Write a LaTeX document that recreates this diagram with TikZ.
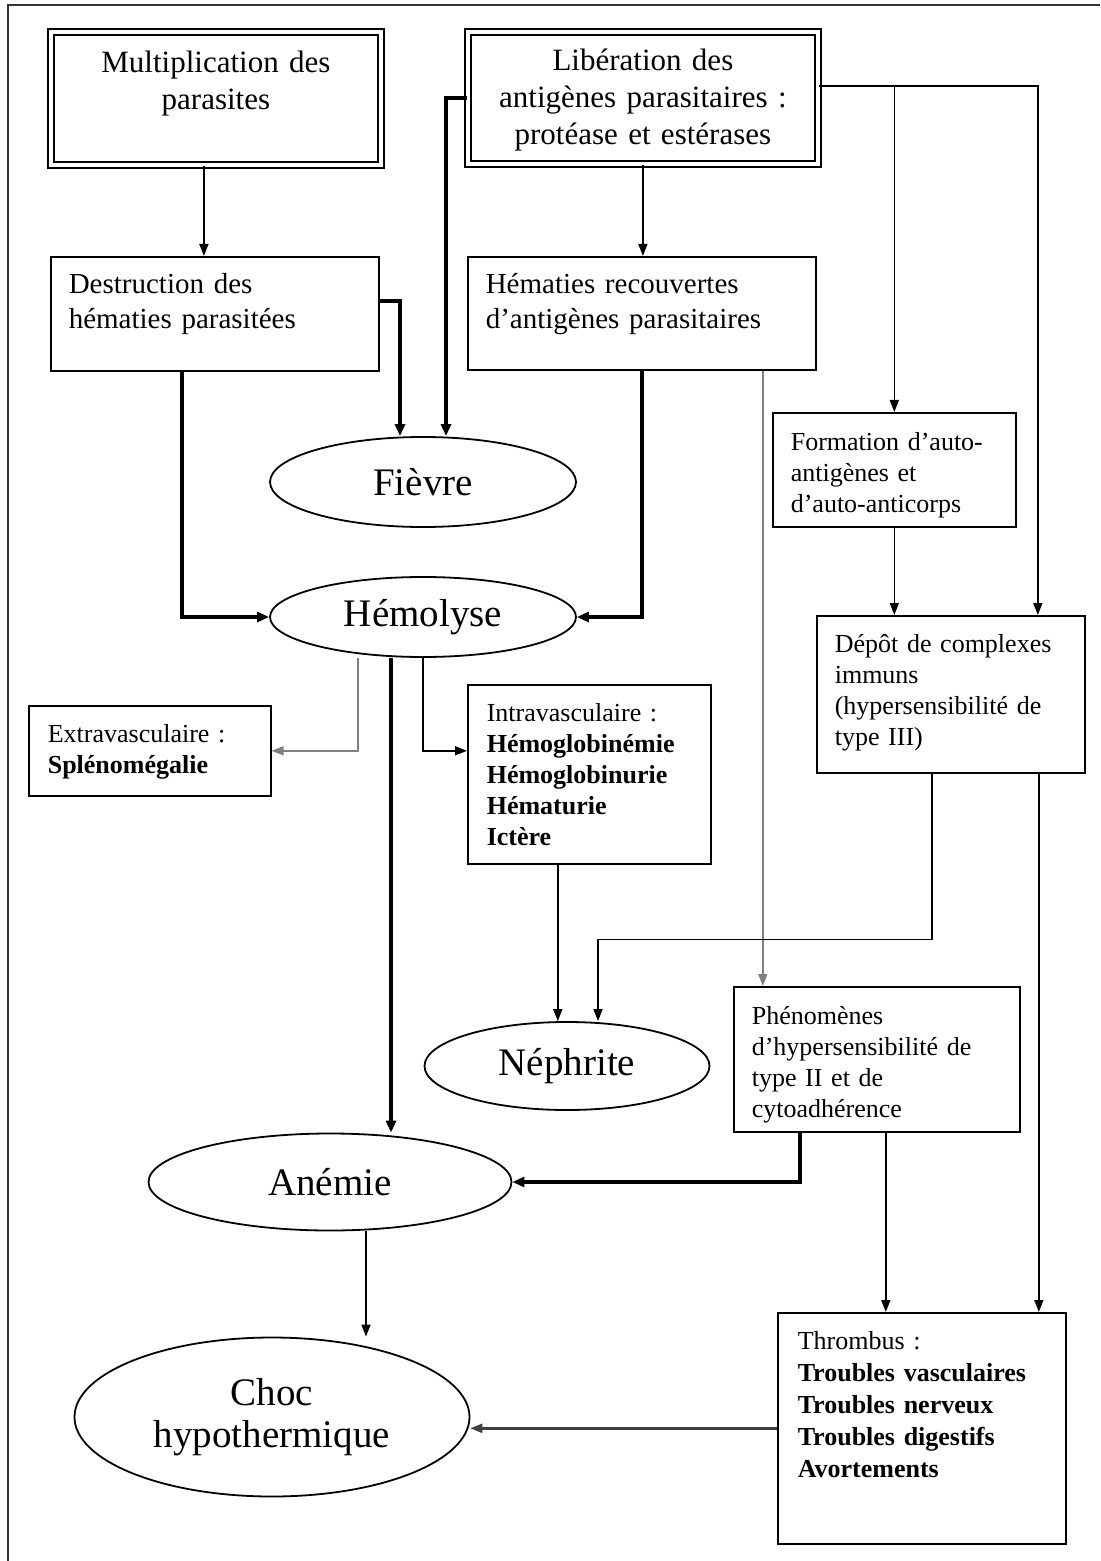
\documentclass[tikz,border=0pt]{standalone}
\usepackage{fontspec}
\setmainfont{Liberation Serif}
\usetikzlibrary{arrows.meta,shapes.geometric}

\begin{document}
\begin{tikzpicture}[x=0.5pt,y=-0.5pt,
	boite/.style={draw,line width=0.8pt,anchor=north west,align=left,inner ysep=0pt,inner xsep=9pt,font=\fontsize{13}{15.5}\selectfont},
	grande/.style={boite,double,line width=0.9pt,double distance=2pt,align=center,inner xsep=5pt,font=\fontsize{15.5}{18.3}\selectfont},
	bulle/.style={draw,ellipse,line width=0.9pt,inner sep=0pt,align=center,font=\fontsize{19.5}{21}\selectfont},
	fin/.style={line width=0.8pt,-{Triangle[length=6pt,width=4.5pt]}},
	gris/.style={fin,gray},
	epais/.style={line width=2pt,-{Triangle[length=6pt,width=5pt]}}]
	\useasboundingbox (0,0) rectangle (1100,1561);
	% cadre
	\draw[line width=0.9pt,black!80] (8,1561) -- (8,5) -- (1100,5);
	% boites du haut
	\node[grande,text width=155pt,text height=20.5pt,text depth=46pt] (mult) at (50,31) {Multiplication des\\parasites};
	\node[grande,text width=165pt,text height=19.5pt,text depth=46.5pt] (lib) at (467,31) {Libération des\\antigènes parasitaires :\\protéase et estérases};
	\node[boite,text width=146pt,text height=18.5pt,text depth=38.5pt,font=\fontsize{14.5}{17.5}\selectfont] (destr) at (50,256) {Destruction des\\hématies parasitées};
	\node[boite,text width=156pt,text height=18.5pt,text depth=38pt,font=\fontsize{14.5}{17.5}\selectfont] (hemat) at (467,256) {Hématies recouvertes\\d’antigènes parasitaires};
	% ellipses
	\node[bulle,minimum width=153pt,minimum height=45pt] (fievre) at (423,482) {Fièvre};
	\node[bulle,minimum width=153pt,minimum height=40pt] (hemol) at (423,617) {Hémolyse};
	\node[bulle,minimum width=142.5pt,minimum height=44pt] (nephr) at (567,1066) {Néphrite};
	\node[bulle,minimum width=181.5pt,minimum height=48.5pt] (anemie) at (330,1182) {Anémie};
	\node[bulle,minimum width=197.5pt,minimum height=79.5pt] (choc) at (272,1417) {Choc\\hypothermique};
	% autres boites
	\node[boite,text width=103.5pt,text height=19pt,text depth=38pt] (form) at (772,412) {Formation d’auto-\\antigènes et\\d’auto-anticorps};
	\node[boite,text width=116pt,text height=18.5pt,text depth=60pt] (depot) at (816,615) {Dépôt de complexes\\immuns\\(hypersensibilité de\\type III)};
	\node[boite,inner xsep=9.5pt,text width=102pt,text height=18.5pt,text depth=26.5pt] (extra) at (28,705) {Extravasculaire :\\\textbf{Splénomégalie}};
	\node[boite,inner xsep=9.5pt,text width=102.5pt,text height=18.5pt,text depth=71pt] (intra) at (467,684) {Intravasculaire :\\\textbf{Hémoglobinémie}\\\textbf{Hémoglobinurie}\\\textbf{Hématurie}\\\textbf{Ictère}};
	\node[boite,text width=125pt,text height=19pt,text depth=53.5pt] (pheno) at (733,986) {Phénomènes\\d’hypersensibilité de\\type II et de\\cytoadhérence};
	\node[boite,inner xsep=10pt,text width=124pt,text height=18.5pt,text depth=97pt,font=\fontsize{13}{16}\selectfont] (thromb) at (777,1312) {Thrombus :\\\textbf{Troubles vasculaires}\\\textbf{Troubles nerveux}\\\textbf{Troubles digestifs}\\\textbf{Avortements}};
	% liaisons
	\coordinate (libd) at ([yshift=6pt]lib.east);
	\draw[fin] ([xshift=-6pt]mult.south) -- ([xshift=-6pt]mult.south |- destr.north);
	\draw[fin] (lib.south) -- (lib.south |- hemat.north);
	\draw[epais] (lib.west) -| ([xshift=11.5pt]fievre.north);
	\draw[epais] ([yshift=6.5pt]destr.east) -| ([xshift=-11.5pt]fievre.north);
	\draw[epais] ([xshift=-16.5pt]destr.south) |- (hemol.west);
	\draw[epais] (hemat.south) |- (hemol.east);
	\draw[gris] ([xshift=60.5pt]hemat.south) -- ([xshift=60.5pt]hemat.south |- pheno.north);
	\draw[fin] (libd) -| ([xshift=43.5pt]depot.north);
	\draw[fin] (libd -| form.north) -- (form.north);
	\draw[fin] (form.south) -- (form.south |- depot.north);
	\draw[gris] ([xshift=-32.5pt]hemol.south) |- (extra.east);
	\draw[fin] (hemol.south) |- ([yshift=11.75pt]intra.west);
	\draw[epais] ([xshift=-16pt]hemol.south) -- ([xshift=-16pt]hemol.south |- anemie.north);
	\draw[fin] ([xshift=-9.5pt]depot.south) -- ++(0,-83pt) -| ([xshift=15.5pt]nephr.north);
	\draw[fin] ([xshift=-15.75pt]intra.south) -- ([xshift=-15.75pt]intra.south |- nephr.north);
	\draw[fin] ([xshift=44pt]depot.south) -- ([xshift=44pt]depot.south |- thromb.north);
	\draw[epais] ([xshift=-38.5pt]pheno.south) |- (anemie.east);
	\draw[fin] ([xshift=4.5pt]pheno.south) -- ([xshift=4.5pt]pheno.south |- thromb.north);
	\draw[fin] ([xshift=18pt]anemie.south) -- ([xshift=18pt]anemie.south |- choc.north);
	\draw[fin,line width=1.2pt,black!75] (thromb.west) -- (thromb.west -| choc.east);
\end{tikzpicture}
\end{document}
